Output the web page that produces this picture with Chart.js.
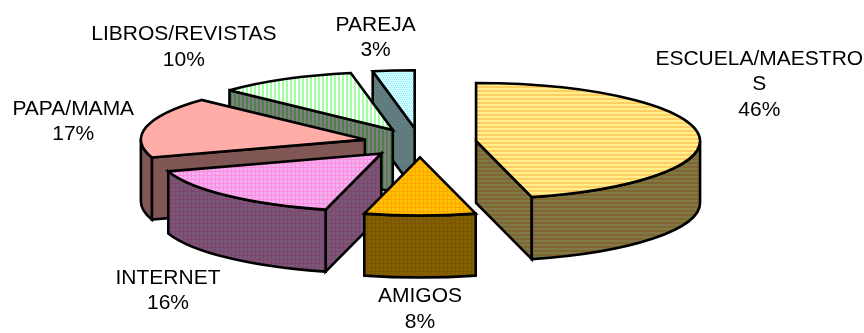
<!DOCTYPE html>
<html>
<head>
<meta charset="utf-8">
<style>
  html, body { margin: 0; padding: 0; background: #fff; }
  canvas { display: block; }
</style>
<script src="https://cdn.jsdelivr.net/npm/chart.js@4"></script>
</head>
<body>
<canvas id="pie3d" width="864" height="333"></canvas>
<script>
const categories = [['ESCUELA/MAESTRO', 'S'], ['AMIGOS'], ['INTERNET'], ['PAPA/MAMA'], ['LIBROS/REVISTAS'], ['PAREJA']];
const percents = [46, 8, 16, 17, 10, 3];

// slice fills, 4x4 tiles like the old office hatch patterns
const fills = [
  { rows: ['aaaa', 'aaaa', 'bbbb', 'bbbb'], a: [255, 240, 140], b: [255, 205, 100] },
  { rows: ['aaab', 'aaab', 'aaab', 'bbbb'], a: [255, 195, 0], b: [255, 165, 0] },
  { rows: ['aaab', 'aaab', 'aaab', 'bbbb'], a: [240, 175, 240], b: [255, 140, 220] },
  { rows: ['abab', 'baba', 'abab', 'baba'], a: [255, 160, 175], b: [255, 185, 160] },
  { rows: ['aabb', 'aabb', 'aabb', 'aabb'], a: [255, 255, 255], b: [160, 255, 160] },
  { rows: ['aaaa', 'abab', 'aaaa', 'baba'], a: [204, 255, 255], b: [160, 225, 255] }
];
// where each label sits relative to the middle of its slice rim
const labelNudge = [[61, -49], [0, 94], [-60, 95], [-73, -5], [-101, -32], [-18, -33]];

const TILT = 0.259;
const DEPTH = 62;
const LINE_HEIGHT = 25.5;

function makePattern(fill, shade) {
  const tile = document.createElement('canvas');
  tile.width = 4;
  tile.height = 4;
  const c = tile.getContext('2d');
  fill.rows.forEach((row, y) => {
    [...row].forEach((k, x) => {
      const rgb = fill[k].map(v => Math.round(v * shade));
      c.fillStyle = 'rgb(' + rgb.join(',') + ')';
      c.fillRect(x, y, 1, 1);
    });
  });
  return c.createPattern(tile, 'repeat');
}

const ctx = document.getElementById('pie3d').getContext('2d');
const wallFills = fills.map(f => makePattern(f, 0.5));

// Pie is laid out by Chart.js, this plugin then draws each arc tilted with a wall under it
const tiltedPie = {
  id: 'tiltedPie',
  beforeDatasetsDraw(chart) {
    const c = chart.ctx;
    const arcs = chart.getDatasetMeta(0).data;
    c.save();
    c.lineWidth = 2.6;
    c.miterLimit = 3;
    c.strokeStyle = '#000';

    for (let i = arcs.length - 1; i >= 0; i--) {
      const arc = arcs[i];
      const mid = (arc.startAngle + arc.endAngle) / 2;
      const off = arc.options.offset / 4;
      const x = arc.x + Math.cos(mid) * off;
      const y = arc.y + Math.sin(mid) * off * TILT;
      const r = arc.outerRadius;
      const px = a => x + Math.cos(a) * r;
      const py = a => y + Math.sin(a) * r * TILT;

      c.fillStyle = wallFills[i];
      // flat wall on the start edge, only when it faces the viewer
      if (px(arc.startAngle) < x - 0.5) {
        c.beginPath();
        c.moveTo(x, y);
        c.lineTo(px(arc.startAngle), py(arc.startAngle));
        c.lineTo(px(arc.startAngle), py(arc.startAngle) + DEPTH);
        c.lineTo(x, y + DEPTH);
        c.closePath();
        c.fill();
        c.stroke();
      }
      // same for the end edge
      if (px(arc.endAngle) > x + 0.5) {
        c.beginPath();
        c.moveTo(x, y);
        c.lineTo(px(arc.endAngle), py(arc.endAngle));
        c.lineTo(px(arc.endAngle), py(arc.endAngle) + DEPTH);
        c.lineTo(x, y + DEPTH);
        c.closePath();
        c.fill();
        c.stroke();
      }
      // rim wall, front half of the ellipse only
      const a0 = Math.max(arc.startAngle, 0);
      const a1 = Math.min(arc.endAngle, Math.PI);
      if (a1 > a0) {
        c.beginPath();
        c.ellipse(x, y, r, r * TILT, 0, a0, a1);
        c.ellipse(x, y + DEPTH, r, r * TILT, 0, a1, a0, true);
        c.closePath();
        c.fill();
        c.stroke();
      }
      // top face
      c.fillStyle = arc.options.backgroundColor;
      c.beginPath();
      c.moveTo(x, y);
      c.ellipse(x, y, r, r * TILT, 0, arc.startAngle, arc.endAngle);
      c.closePath();
      c.fill();
      c.stroke();
    }

    // labels
    c.fillStyle = '#000';
    c.font = '21px "Liberation Sans", Arial, sans-serif';
    c.textAlign = 'center';
    c.textBaseline = 'middle';
    arcs.forEach((arc, i) => {
      const mid = (arc.startAngle + arc.endAngle) / 2;
      const off = arc.options.offset / 4 + arc.outerRadius;
      const lx = arc.x + Math.cos(mid) * off + labelNudge[i][0];
      const ly = arc.y + Math.sin(mid) * off * TILT + labelNudge[i][1];
      const lines = categories[i].concat(percents[i] + '%');
      lines.forEach((line, n) => {
        c.fillText(line, lx, ly + (n - (lines.length - 1) / 2) * LINE_HEIGHT);
      });
    });
    c.restore();
    return false;
  }
};

new Chart(ctx, {
  type: 'pie',
  data: {
    labels: categories.map(l => l.join('')),
    datasets: [{
      data: percents,
      backgroundColor: fills.map(f => makePattern(f, 1)),
      borderWidth: 0,
      offset: 226
    }]
  },
  options: {
    responsive: false,
    animation: false,
    events: [],
    radius: 224,
    layout: { padding: { right: 24, bottom: 47.4 } },
    plugins: { legend: { display: false }, tooltip: { enabled: false } }
  },
  plugins: [tiltedPie]
});
</script>
</body>
</html>
